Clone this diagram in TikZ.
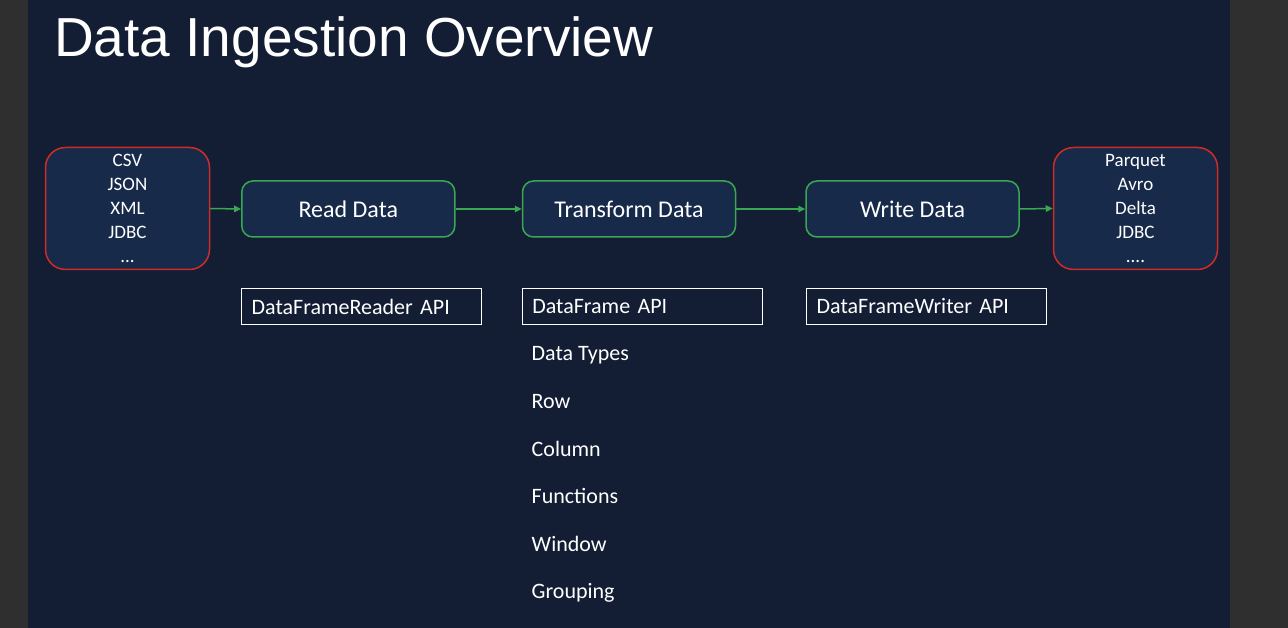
\documentclass[tikz,border=0pt]{standalone}
\usepackage{fontspec}
\setmainfont{Carlito}
\newfontfamily\titlefont{Liberation Sans}
\usetikzlibrary{arrows.meta}
\definecolor{framegray}{RGB}{47,47,47}
\definecolor{slidebg}{RGB}{19,30,52}
\definecolor{boxfill}{RGB}{23,42,74}
\definecolor{srcred}{RGB}{205,45,38}
\definecolor{stepgreen}{RGB}{58,168,82}
\tikzset{
  srcbox/.style={draw=srcred, line width=1.5pt, fill=boxfill, rounded corners=20pt,
    minimum width=164pt, minimum height=122pt, inner sep=0pt, text=white, align=center,
    font=\fontsize{19}{24}\selectfont},
  stepbox/.style={draw=stepgreen, line width=1.5pt, fill=boxfill, rounded corners=11pt,
    minimum width=213pt, minimum height=56pt, inner sep=0pt, text=white,
    font=\fontsize{24}{28}\selectfont},
  apibox/.style={draw=white, line width=1.2pt, inner xsep=10pt, inner ysep=0pt,
    text width=220pt, align=left, minimum height=36.5pt, text=white,
    font=\fontsize{22}{26}\selectfont},
  itemtext/.style={anchor=base west, inner sep=0pt, text=white, font=\fontsize{22}{26}\selectfont},
  flow/.style={draw=stepgreen, line width=1.5pt, -{Triangle[length=7pt,width=6.5pt]}}
}
\begin{document}
\begin{tikzpicture}[x=1pt,y=-1pt]
\fill[framegray] (0,0) rectangle (1288,628);
\fill[slidebg] (28,0) rectangle (1230,628);
\useasboundingbox (0,0) rectangle (1288,628);

\node[anchor=base west, inner sep=0pt, text=white, font=\titlefont\fontsize{55}{60}\selectfont]
  (title) at (54,57) {Data Ingestion Overview};

\node[srcbox] (src) at (127.5,208.5) {CSV\\JSON\\XML\\JDBC\\...};
\node[stepbox] (read) at (348.3,209) {Read Data};
\node[stepbox] (transform) at (629,209) {Transform Data};
\node[stepbox] (write) at (912.5,209) {Write Data};
\node[srcbox] (dst) at (1135.5,208.5) {Parquet\\Avro\\Delta\\JDBC\\....};

\draw[flow] (src.east) -- (read.west);
\draw[flow] (read.east) -- (transform.west);
\draw[flow] (transform.east) -- (write.west);
\draw[flow] (write.east) -- (dst.west);

\node[apibox] (readerapi) at (361.7,306.5) {DataFrameReader API};
\node[apibox] (dfapi) at (642.3,306.5) {DataFrame API};
\node[apibox] (writerapi) at (926.7,306.5) {DataFrameWriter API};

\node[itemtext] (types) at (531.5,360) {Data Types};
\node[itemtext] (row) at (531.5,408) {Row};
\node[itemtext] (column) at (531.5,456) {Column};
\node[itemtext] (functions) at (531.5,503) {Functions};
\node[itemtext] (window) at (531.5,551) {Window};
\node[itemtext] (grouping) at (531.5,598) {Grouping};
\end{tikzpicture}
\end{document}
